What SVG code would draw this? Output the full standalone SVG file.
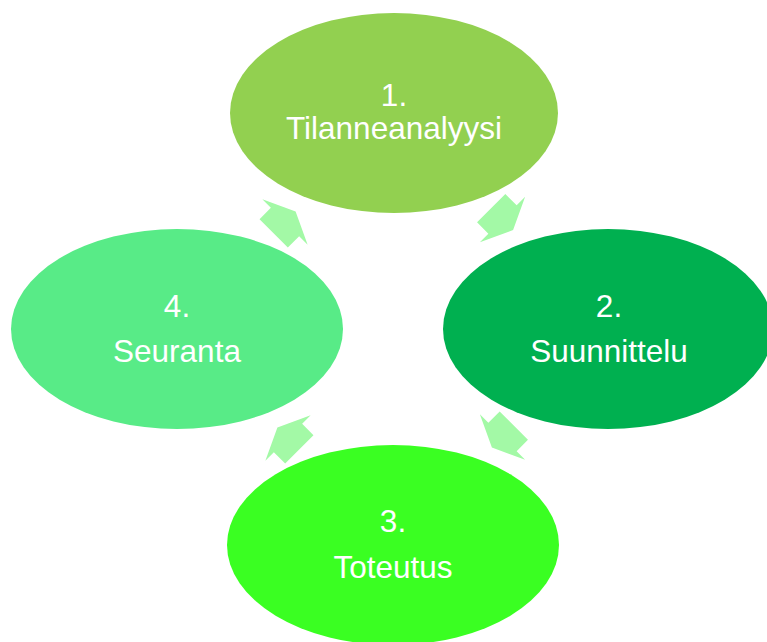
<svg xmlns="http://www.w3.org/2000/svg" xmlns:xlink="http://www.w3.org/1999/xlink" width="767" height="642" viewBox="0 0 767 642">
  <style>
    .label { font-family: "Liberation Sans", Arial, sans-serif; font-size: 31.5px; fill: #ffffff; text-anchor: middle; }
    .step-arrow { fill: #a3f9a6; }
  </style>
  <defs>
    <!-- block arrow pointing along +x, origin at the middle of the head base -->
    <polygon id="cycle-arrow" points="-16,-20 0,-20 0,-32 15,0 0,32 0,20 -16,20"/>
  </defs>
  <rect x="0" y="0" width="767" height="642" fill="#ffffff"/>

  <g id="connectors">
    <use xlink:href="#cycle-arrow" class="step-arrow" transform="translate(285 222) rotate(-45)"/>
    <use xlink:href="#cycle-arrow" class="step-arrow" transform="translate(502.5 219.5) rotate(45)"/>
    <use xlink:href="#cycle-arrow" class="step-arrow" transform="translate(502.5 437) rotate(135)"/>
    <use xlink:href="#cycle-arrow" class="step-arrow" transform="translate(288 438) rotate(-135)"/>
  </g>

  <g id="node-1">
    <ellipse cx="394" cy="113" rx="164" ry="100" fill="#92d050"/>
    <text class="label" x="394" y="106">1.</text>
    <text class="label" x="394" y="139">Tilanneanalyysi</text>
  </g>

  <g id="node-2">
    <ellipse cx="608" cy="329" rx="165" ry="100" fill="#00b050"/>
    <text class="label" x="609" y="317">2.</text>
    <text class="label" x="609" y="362">Suunnittelu</text>
  </g>

  <g id="node-3">
    <ellipse cx="393" cy="545" rx="166" ry="100" fill="#3aff22"/>
    <text class="label" x="393" y="532">3.</text>
    <text class="label" x="393" y="578">Toteutus</text>
  </g>

  <g id="node-4">
    <ellipse cx="177" cy="329" rx="166" ry="100" fill="#58eb87"/>
    <text class="label" x="177" y="317">4.</text>
    <text class="label" x="177" y="362">Seuranta</text>
  </g>
</svg>
